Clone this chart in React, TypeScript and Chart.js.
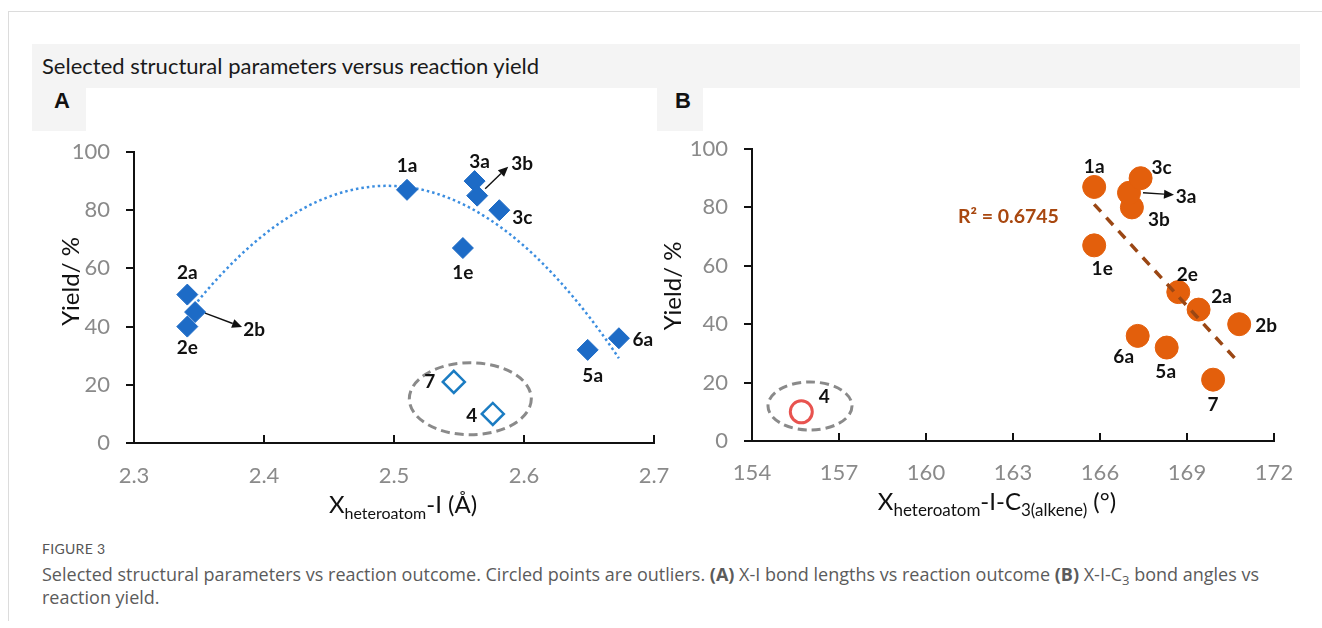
import React, { useEffect, useRef } from 'react';
import { Chart, registerables } from 'chart.js';
Chart.register(...registerables);

const FONT = 'Lato, "Open Sans", sans-serif';

// ---------- Panel A: X-I bond length vs yield ----------
const labelsA = ['1a', '1e', '2a', '2b', '2e', '3a', '3b', '3c', '5a', '6a'];
const bondLengthA = [2.51, 2.553, 2.341, 2.347, 2.341, 2.562, 2.564, 2.581, 2.649, 2.673];
const yieldA = [87, 67, 51, 45, 40, 90, 85, 80, 32, 36];
const outlierLabelsA = ['7', '4'];
const outlierLengthA = [2.546, 2.576];
const outlierYieldA = [21, 10];
const xTicksA = [2.3, 2.4, 2.5, 2.6, 2.7];

// ---------- Panel B: X-I-C3 angle vs yield ----------
const labelsB = ['1a', '1e', '2e', '2a', '2b', '3b', '3a', '3c', '6a', '5a', '7'];
const angleB = [165.8, 165.8, 168.7, 169.4, 170.8, 167.1, 167.0, 167.4, 167.3, 168.3, 169.9];
const yieldB = [87, 67, 51, 45, 40, 80, 85, 90, 36, 32, 21];
const outlierLabelsB = ['4'];
const outlierAngleB = [155.7];
const outlierYieldB = [10];
const xTicksB = [154, 157, 160, 163, 166, 169, 172];
const r2TextB = 'R² = 0.6745';

const yTicks = [0, 20, 40, 60, 80, 100];

// ---------- styling / annotation layout (pixels) ----------
const offsetsA: Record<string, [number, number]> = {
  '2a': [0, -22], '2e': [0, 21], '2b': [59, 18], '1a': [0, -24], '3a': [5, -19],
  '3b': [45, -32], '3c': [23, 8], '1e': [0, 25], '5a': [5, 26], '6a': [24, 2], '7': [-24, 0], '4': [-21, 2],
};
const arrowsA: Record<string, [number, number, number, number]> = {
  '2b': [10, 1, 47, 15],
  '3b': [8, -7, 31, -29],
};
const offsetsB: Record<string, [number, number]> = {
  '1a': [0, -20], '3c': [21, -10], '3a': [57, 4], '3b': [27, 12], '1e': [8, 24], '2e': [9, -17],
  '2a': [23, -13], '2b': [27, 2], '6a': [-14, 21], '5a': [-1, 24], '7': [0, 25], '4': [23, -15],
};
const arrowsB: Record<string, [number, number, number, number]> = {
  '3a': [14, 0, 45, 2],
};
const ringA = { x: 2.5587, y: 15.2, rx: 61, ry: 36 };
const ringB = { x: 156.0, y: 12.0, rx: 42, ry: 24 };
const r2Anchor = { x: 161.1, y: 76.7 };

// ---------- regression helpers (Excel-style trendlines from the data) ----------
function det3(m: number[][]) {
  return (
    m[0][0] * (m[1][1] * m[2][2] - m[1][2] * m[2][1]) -
    m[0][1] * (m[1][0] * m[2][2] - m[1][2] * m[2][0]) +
    m[0][2] * (m[1][0] * m[2][1] - m[1][1] * m[2][0])
  );
}
function quadFit(xs: number[], ys: number[]) {
  const n = xs.length;
  const mx = xs.reduce((a, b) => a + b, 0) / n;
  let s1 = 0, s2 = 0, s3 = 0, s4 = 0, t0 = 0, t1 = 0, t2 = 0;
  xs.forEach((x, i) => {
    const u = x - mx;
    s1 += u; s2 += u * u; s3 += u * u * u; s4 += u * u * u * u;
    t0 += ys[i]; t1 += u * ys[i]; t2 += u * u * ys[i];
  });
  const M = [[n, s1, s2], [s1, s2, s3], [s2, s3, s4]];
  const T = [t0, t1, t2];
  const D = det3(M);
  const c = [0, 1, 2].map((k) => det3(M.map((row, r) => row.map((v, j) => (j === k ? T[r] : v)))) / D);
  return (x: number) => c[0] + c[1] * (x - mx) + c[2] * (x - mx) * (x - mx);
}
function linFit(xs: number[], ys: number[]) {
  const n = xs.length;
  const mx = xs.reduce((a, b) => a + b, 0) / n;
  const my = ys.reduce((a, b) => a + b, 0) / n;
  let sxy = 0, sxx = 0;
  xs.forEach((x, i) => { sxy += (x - mx) * (ys[i] - my); sxx += (x - mx) * (x - mx); });
  const b = sxy / sxx;
  return (x: number) => my + b * (x - mx);
}

// ---------- drawing helpers ----------
function drawArrow(ctx: CanvasRenderingContext2D, x1: number, y1: number, x2: number, y2: number) {
  const ang = Math.atan2(y2 - y1, x2 - x1);
  const head = 10, hw = 4.5;
  const bx = x2 - head * Math.cos(ang), by = y2 - head * Math.sin(ang);
  ctx.save();
  ctx.strokeStyle = '#111';
  ctx.fillStyle = '#111';
  ctx.lineWidth = 1.4;
  ctx.beginPath(); ctx.moveTo(x1, y1); ctx.lineTo(bx, by); ctx.stroke();
  ctx.beginPath();
  ctx.moveTo(x2, y2);
  ctx.lineTo(bx + hw * Math.sin(ang), by - hw * Math.cos(ang));
  ctx.lineTo(bx - hw * Math.sin(ang), by + hw * Math.cos(ang));
  ctx.closePath(); ctx.fill();
  ctx.restore();
}
type Seg = [string, number, number];
function drawSegments(ctx: CanvasRenderingContext2D, segs: Seg[], cx: number, baseline: number) {
  let total = 0;
  segs.forEach(([t, s]) => { ctx.font = `${s}px ${FONT}`; total += ctx.measureText(t).width; });
  let x = cx - total / 2;
  ctx.fillStyle = '#111';
  ctx.textAlign = 'left';
  ctx.textBaseline = 'alphabetic';
  segs.forEach(([t, s, dy]) => {
    ctx.font = `${s}px ${FONT}`;
    ctx.fillText(t, x, baseline + dy);
    x += ctx.measureText(t).width;
  });
}
function drawRing(ctx: CanvasRenderingContext2D, chart: any, ring: { x: number; y: number; rx: number; ry: number }) {
  const cx = chart.scales.x.getPixelForValue(ring.x);
  const cy = chart.scales.y.getPixelForValue(ring.y);
  ctx.save();
  ctx.strokeStyle = '#8a8a8a';
  ctx.lineWidth = 3;
  ctx.setLineDash([9, 5]);
  ctx.beginPath();
  ctx.ellipse(cx, cy, ring.rx, ring.ry, 0, 0, Math.PI * 2);
  ctx.stroke();
  ctx.restore();
}
function drawPointLabels(
  ctx: CanvasRenderingContext2D, chart: any, sets: { ds: number; names: string[] }[],
  offsets: Record<string, [number, number]>, arrows: Record<string, [number, number, number, number]>,
) {
  ctx.save();
  ctx.font = `bold 19px ${FONT}`;
  ctx.fillStyle = '#111';
  ctx.textAlign = 'center';
  ctx.textBaseline = 'middle';
  sets.forEach(({ ds, names }) => {
    const meta = chart.getDatasetMeta(ds);
    names.forEach((name, i) => {
      const el = meta.data[i];
      const [dx, dy] = offsets[name] || [0, -20];
      ctx.fillText(name, el.x + dx, el.y + dy);
      const a = arrows[name];
      if (a) drawArrow(ctx, el.x + a[0], el.y + a[1], el.x + a[2], el.y + a[3]);
    });
  });
  ctx.restore();
}
function drawInnerTicks(ctx: CanvasRenderingContext2D, chart: any) {
  const xs = chart.scales.x;
  const bottom = chart.chartArea.bottom;
  ctx.save();
  ctx.strokeStyle = '#111';
  ctx.lineWidth = 2;
  xs.ticks.forEach((t: any) => {
    const px = xs.getPixelForValue(t.value);
    ctx.beginPath(); ctx.moveTo(px, bottom); ctx.lineTo(px, bottom - 8); ctx.stroke();
  });
  ctx.restore();
}
function drawYTitle(ctx: CanvasRenderingContext2D, x: number, y: number) {
  ctx.save();
  ctx.translate(x, y);
  ctx.rotate(-Math.PI / 2);
  ctx.font = `24px ${FONT}`;
  ctx.fillStyle = '#111';
  ctx.textAlign = 'center';
  ctx.textBaseline = 'middle';
  ctx.fillText('Yield/ %', 0, 0);
  ctx.restore();
}

function axes(xMin: number, xMax: number, xTicks: number[], yWidth: number, xHeight: number, xPad: number) {
  return {
    x: {
      type: 'linear', min: xMin, max: xMax,
      afterBuildTicks: (s: any) => { s.ticks = xTicks.map((v) => ({ value: v })); },
      afterFit: (s: any) => { s.height = xHeight; },
      grid: { drawOnChartArea: false, drawTicks: false },
      border: { display: true, color: '#111', width: 2 },
      ticks: { padding: xPad, color: '#8a8a8a', font: { family: FONT, size: 22 }, callback: (v: any) => String(v), maxRotation: 0, autoSkip: false },
    },
    y: {
      type: 'linear', min: 0, max: 100,
      afterBuildTicks: (s: any) => { s.ticks = yTicks.map((v) => ({ value: v })); },
      afterFit: (s: any) => { s.width = yWidth; },
      grid: { drawOnChartArea: false, drawTicks: true, tickLength: 8, color: '#111', lineWidth: 2 },
      border: { display: true, color: '#111', width: 2 },
      ticks: { padding: 16, color: '#8a8a8a', font: { family: FONT, size: 22 }, callback: (v: any) => String(v) },
    },
  };
}

function configA(): any {
  const fit = quadFit(bondLengthA, yieldA);
  const lo = Math.min(...bondLengthA), hi = Math.max(...bondLengthA);
  const trend = Array.from({ length: 121 }, (_, i) => {
    const x = lo + ((hi - lo) * i) / 120;
    return { x, y: fit(x) };
  });
  const plugin = {
    id: 'decorA',
    beforeDatasetsDraw(chart: any) { drawRing(chart.ctx, chart, ringA); },
    afterDatasetsDraw(chart: any) {
      const ctx = chart.ctx;
      drawPointLabels(ctx, chart, [{ ds: 0, names: labelsA }, { ds: 1, names: outlierLabelsA }], offsetsA, arrowsA);
    },
    afterDraw(chart: any) {
      const ctx = chart.ctx;
      const ca = chart.chartArea;
      drawInnerTicks(ctx, chart);
      drawYTitle(ctx, ca.left - 63, (ca.top + ca.bottom) / 2 - 16);
      drawSegments(ctx, [['X', 24, 0], ['heteroatom', 16, 6], ['-I (Å)', 24, 0]], (ca.left + ca.right) / 2 + 9, ca.bottom + 70);
    },
  };
  return {
    type: 'scatter',
    data: {
      datasets: [
        {
          data: bondLengthA.map((x, i) => ({ x, y: yieldA[i] })),
          pointStyle: 'rectRot', pointRadius: 10.5, backgroundColor: '#1d6bc6', borderColor: '#1d6bc6', borderWidth: 1,
        },
        {
          data: outlierLengthA.map((x, i) => ({ x, y: outlierYieldA[i] })),
          pointStyle: 'rectRot', pointRadius: 11, backgroundColor: '#ffffff', borderColor: '#1b7cc2', borderWidth: 2.5,
        },
        {
          data: trend, showLine: true, pointRadius: 0, borderColor: '#3c8ee0', borderWidth: 2.5,
          borderDash: [2.5, 3], fill: false, tension: 0,
        },
      ],
    },
    options: {
      animation: false, responsive: false, events: [],
      layout: { padding: { left: 0, top: 30, right: 40, bottom: 0 } },
      plugins: { legend: { display: false }, tooltip: { enabled: false } },
      scales: axes(2.3, 2.7, xTicksA, 114, 92, 20),
    },
    plugins: [plugin],
  };
}

function configB(): any {
  const fit = linFit(angleB, yieldB);
  const lo = Math.min(...angleB), hi = Math.max(...angleB);
  const trend = [{ x: lo, y: fit(lo) }, { x: hi, y: fit(hi) }];
  const plugin = {
    id: 'decorB',
    beforeDatasetsDraw(chart: any) { drawRing(chart.ctx, chart, ringB); },
    afterDatasetsDraw(chart: any) {
      const ctx = chart.ctx;
      drawPointLabels(ctx, chart, [{ ds: 1, names: labelsB }, { ds: 2, names: outlierLabelsB }], offsetsB, arrowsB);
      ctx.save();
      ctx.font = `bold 19.5px ${FONT}`;
      ctx.fillStyle = '#a8470f';
      ctx.textAlign = 'left';
      ctx.textBaseline = 'middle';
      ctx.fillText(r2TextB, chart.scales.x.getPixelForValue(r2Anchor.x), chart.scales.y.getPixelForValue(r2Anchor.y));
      ctx.restore();
    },
    afterDraw(chart: any) {
      const ctx = chart.ctx;
      const ca = chart.chartArea;
      drawInnerTicks(ctx, chart);
      drawYTitle(ctx, ca.left - 79, (ca.top + ca.bottom) / 2 - 9);
      drawSegments(
        ctx,
        [['X', 24, 0], ['heteroatom', 17, 6], ['-I-C', 24, 0], ['3(alkene)', 17, 6], [' (°)', 24, 0]],
        (ca.left + ca.right) / 2 - 16, ca.bottom + 69,
      );
    },
  };
  return {
    type: 'scatter',
    data: {
      datasets: [
        {
          data: trend, showLine: true, pointRadius: 0, borderColor: '#9b4714', borderWidth: 3.5,
          borderDash: [10, 8], fill: false, tension: 0,
        },
        {
          data: angleB.map((x, i) => ({ x, y: yieldB[i] })),
          pointStyle: 'circle', pointRadius: 11.5, backgroundColor: '#e35f0c', borderColor: '#e35f0c', borderWidth: 1,
        },
        {
          data: outlierAngleB.map((x, i) => ({ x, y: outlierYieldB[i] })),
          pointStyle: 'circle', pointRadius: 11, backgroundColor: 'rgba(255,255,255,0)', borderColor: '#e8534f', borderWidth: 3,
        },
      ],
    },
    options: {
      animation: false, responsive: false, events: [],
      layout: { padding: { left: 0, top: 30, right: 41, bottom: 0 } },
      plugins: { legend: { display: false }, tooltip: { enabled: false } },
      scales: axes(154, 172, xTicksB, 102, 94, 19),
    },
    plugins: [plugin],
  };
}

export default function App() {
  const refA = useRef<HTMLCanvasElement>(null);
  const refB = useRef<HTMLCanvasElement>(null);
  useEffect(() => {
    const a = new Chart(refA.current!, configA());
    const b = new Chart(refB.current!, configB());
    return () => { a.destroy(); b.destroy(); };
  }, []);
  const abs = (s: React.CSSProperties): React.CSSProperties => ({ position: 'absolute', ...s });
  const capFont = '"Open Sans", Lato, sans-serif';
  return (
    <div style={abs({ left: 0, top: 0, width: 1322, height: 628, background: '#fff', overflow: 'hidden', fontFamily: FONT })}>
      <div style={abs({ left: 8, top: 11, width: 1400, height: 609, borderTop: '1.5px solid #dcdcdc', borderLeft: '1.5px solid #dcdcdc' })} />
      <div style={abs({ left: 32, top: 44, width: 1268, height: 44, background: '#f4f4f4' })} />
      <div style={abs({ left: 42, top: 53, font: `22px ${FONT}`, color: '#1a1a1a', whiteSpace: 'nowrap', lineHeight: '26px' })}>
        Selected structural parameters versus reaction yield
      </div>
      <div style={abs({ left: 32, top: 88, width: 54, height: 43, background: '#f4f4f4' })} />
      <div style={abs({ left: 32, top: 88, width: 60, height: 43, lineHeight: '34px', textAlign: 'center', font: 'bold 22px "Liberation Sans", Arial, sans-serif', color: '#111' })}>A</div>
      <div style={abs({ left: 657, top: 88, width: 46, height: 43, background: '#f4f4f4' })} />
      <div style={abs({ left: 657, top: 88, width: 52, height: 43, lineHeight: '34px', textAlign: 'center', font: 'bold 22px "Liberation Sans", Arial, sans-serif', color: '#111' })}>B</div>
      <canvas ref={refA} width={674} height={413} style={abs({ left: 20, top: 122, width: 674, height: 413 })} />
      <canvas ref={refB} width={665} height={416} style={abs({ left: 650, top: 119, width: 665, height: 416 })} />
      <div style={abs({ left: 42, top: 541, font: `14px ${FONT}`, color: '#555', letterSpacing: 0.3, lineHeight: '16px' })}>FIGURE 3</div>
      <div style={abs({ left: 42, top: 563, font: `18px ${capFont}`, color: '#5b5b5b', whiteSpace: 'nowrap', lineHeight: '23px' })}>
        Selected structural parameters vs reaction outcome. Circled points are outliers. <b>(A)</b> X-I bond lengths vs reaction outcome <b>(B)</b> X-I-C
        <span style={{ fontSize: 13, position: 'relative', top: 4, lineHeight: 0 }}>3</span> bond angles vs
        <br />
        reaction yield.
      </div>
    </div>
  );
}
